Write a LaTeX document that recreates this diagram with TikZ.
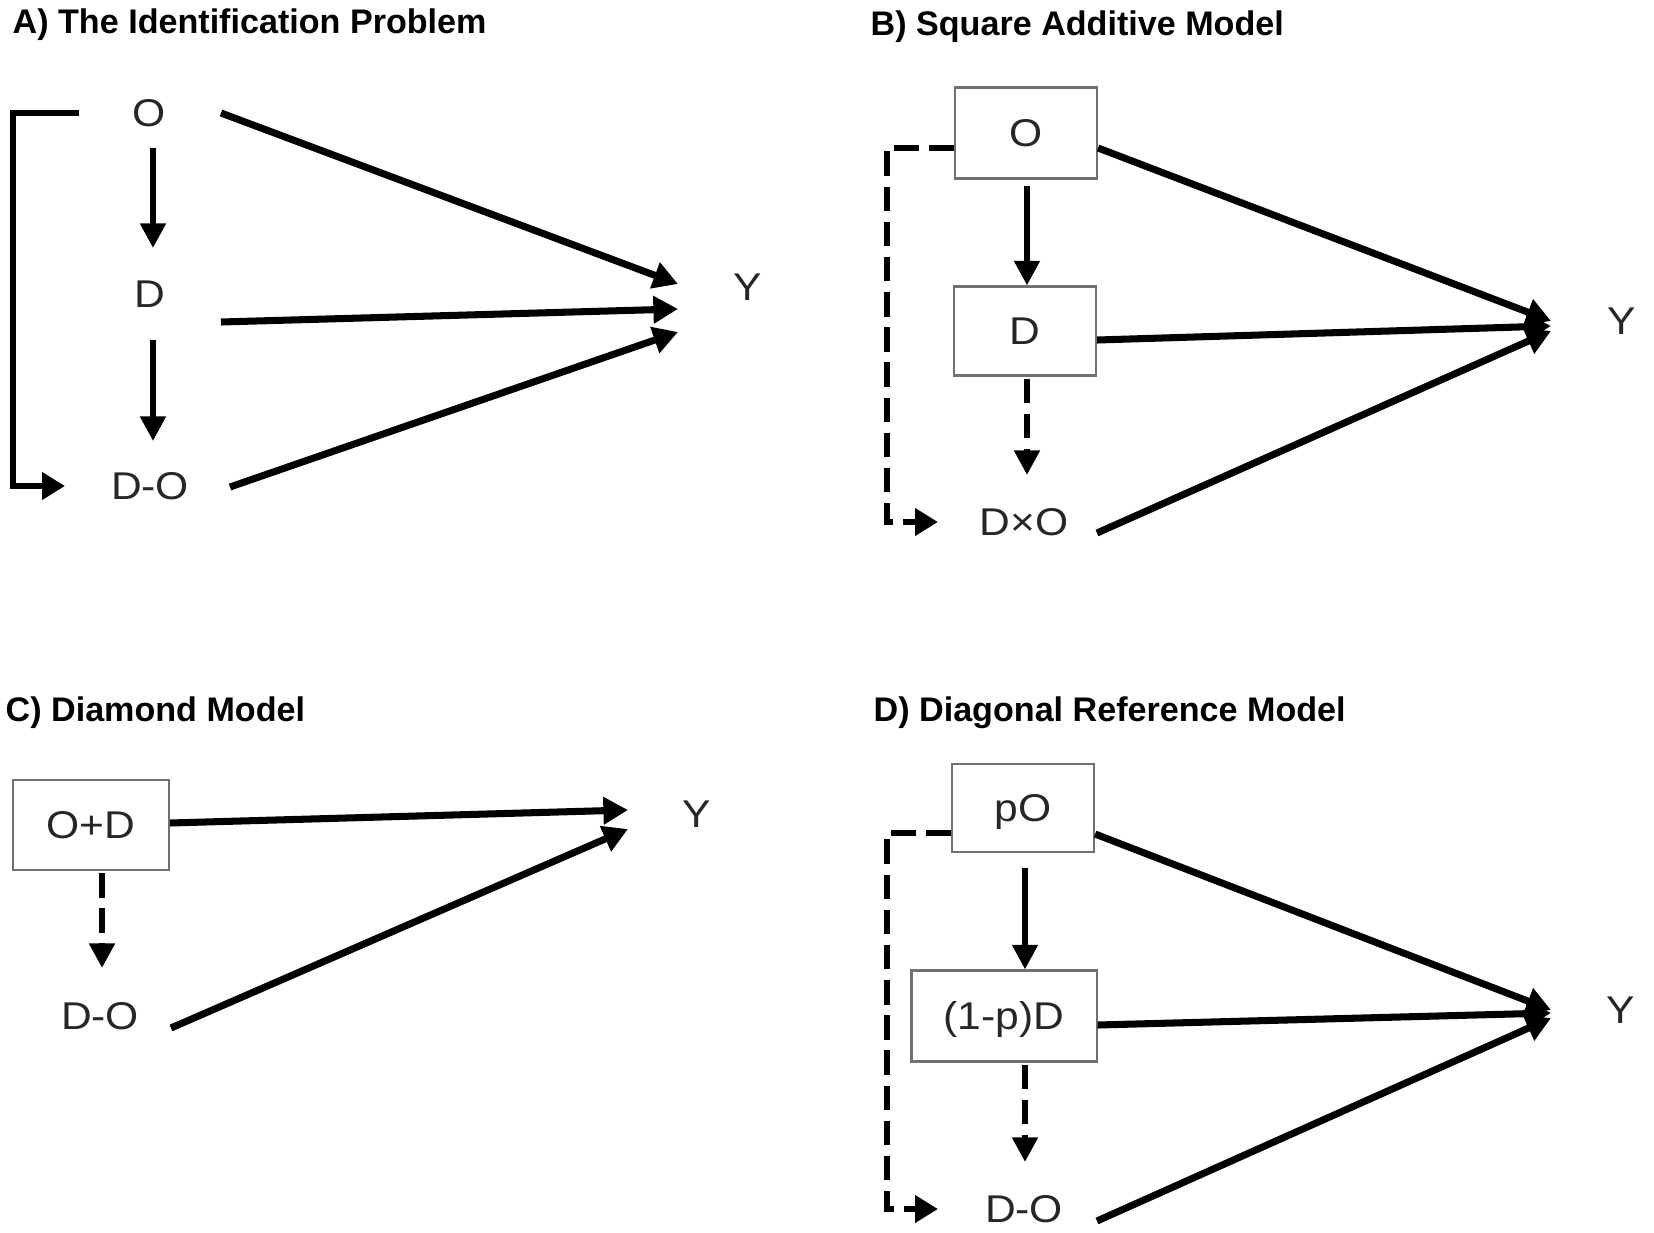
\documentclass[tikz,border=0pt]{standalone}
\usepackage{fontspec}
\setmainfont{Liberation Sans}
\newfontfamily\lblfont[FakeStretch=1.1]{Liberation Sans}
\usetikzlibrary{arrows.meta}
\definecolor{txt}{HTML}{262626}
\definecolor{boxline}{HTML}{707070}
\tikzset{
  paneltitle/.style={anchor=base west, inner sep=0pt, font=\bfseries\fontsize{9.7}{11}\selectfont},
  lbl/.style={inner sep=0pt, text=txt, font=\lblfont\fontsize{11}{13}\selectfont},
  lblbox/.style={lbl, draw=boxline, line width=0.6pt, text height=7.9pt, text depth=0pt, minimum width=#1, minimum height=0.9cm},
  bigarrow/.style={line width=2pt, -{Triangle[length=7pt,width=7.5pt]}},
  downarrow/.style={line width=1.7pt, -{Triangle[length=7pt,width=7pt]}},
  dasharrow/.style={downarrow, dash pattern=on 7pt off 3pt},
  elbow/.style={line width=1.7pt, -{Triangle[length=6.5pt,width=7.5pt]}},
  dashelbow/.style={elbow, dash pattern=on 7pt off 3pt}
}
\begin{document}
\begin{tikzpicture}[x=0.01cm, y=-0.01cm]
\fill[white] (0,0) rectangle (1654,1233);
\useasboundingbox (0,0) rectangle (1654,1233);
\node[paneltitle] (aT) at (12,33) {A) The Identification Problem};
\node[lbl] (aO) at (149,113) {O};
\node[lbl] (aD) at (150,294) {D};
\node[lbl] (aDO) at (150,486) {D-O};
\node[lbl] (aY) at (748,287) {Y};
\draw[downarrow] ([shift={(4,35)}]aO.center) -- ([shift={(3,-46)}]aD.center);
\draw[downarrow] ([shift={(3,46)}]aD.center) -- ([shift={(3,-45)}]aDO.center);
\draw[bigarrow] ([shift={(72,0)}]aO.center) -- ([shift={(-70,-3)}]aY.center);
\draw[bigarrow] ([shift={(71,28)}]aD.center) -- ([shift={(-70,22)}]aY.center);
\draw[bigarrow] ([shift={(80,1)}]aDO.center) -- ([shift={(-70,45)}]aY.center);
\draw[elbow] ([shift={(-70,0)}]aO.center) -- ++(-66,0) |- ([shift={(-85,0)}]aDO.center);
\node[paneltitle] (bT) at (870,35) {B) Square Additive Model};
\node[lblbox=1.42cm, minimum height=0.91cm] (bO) at (1026,133) {O};
\node[lblbox=1.42cm, minimum height=0.89cm] (bD) at (1025,331) {D};
\node[lbl] (bDO) at (1024,522) {D×O};
\node[lbl] (bY) at (1622,321) {Y};
\draw[downarrow] ([shift={(1,6)}]bO.south) -- ([shift={(2,0)}]bD.north);
\draw[dasharrow] ([shift={(2,2)}]bD.south) -- ([shift={(3,-47)}]bDO.center);
\draw[dashelbow] ([yshift=-0.15cm]bO.west) -- ++(-67,0) |- ([xshift=-0.86cm]bDO.center);
\draw[bigarrow] ([yshift=-0.15cm]bO.east) -- ([shift={(-71,0)}]bY.center);
\draw[bigarrow] ([yshift=-0.09cm]bD.east) -- ([shift={(-71,5)}]bY.center);
\draw[bigarrow] ([shift={(73,11)}]bDO.center) -- ([shift={(-71,10)}]bY.center);
\node[paneltitle] (cT) at (5,721) {C) Diamond Model};
\node[lblbox=1.56cm] (cOD) at (91,825) {O+D};
\node[lbl] (cDO) at (100,1016) {D-O};
\node[lbl] (cY) at (697,814) {Y};
\draw[dasharrow] ([shift={(11,2)}]cOD.south) -- ([shift={(2,-48)}]cDO.center);
\draw[bigarrow] ([yshift=0.02cm]cOD.east) -- ([shift={(-69,-4)}]cY.center);
\draw[bigarrow] ([shift={(71,12)}]cDO.center) -- ([shift={(-69,15)}]cY.center);
\node[paneltitle] (dT) at (873,721) {D) Diagonal Reference Model};
\node[lblbox=1.42cm, minimum height=0.88cm] (dpO) at (1023,808) {pO};
\node[lblbox=1.85cm, minimum height=0.91cm] (d1pD) at (1004,1016) {(1-p)D};
\node[lbl] (dDO) at (1024,1209) {D-O};
\node[lbl] (dY) at (1621,1010) {Y};
\draw[downarrow] ([shift={(2,15)}]dpO.south) -- ([shift={(21,0)}]d1pD.north);
\draw[dasharrow] ([shift={(21,2)}]d1pD.south) -- ([shift={(1,-47)}]dDO.center);
\draw[dashelbow] ([yshift=-0.25cm]dpO.west) -- ++(-64,0) |- ([xshift=-0.86cm]dDO.center);
\draw[bigarrow] ([yshift=-0.26cm]dpO.east) -- ([shift={(-70,0)}]dY.center);
\draw[bigarrow] ([yshift=-0.09cm]d1pD.east) -- ([shift={(-70,3)}]dY.center);
\draw[bigarrow] ([shift={(73,12)}]dDO.center) -- ([shift={(-70,8)}]dY.center);
\end{tikzpicture}
\end{document}
